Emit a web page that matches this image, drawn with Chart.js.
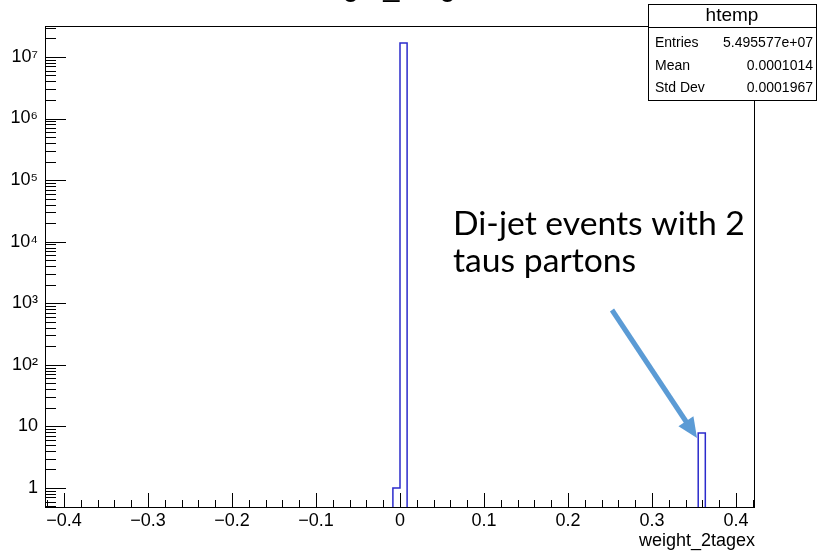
<!DOCTYPE html>
<html><head><meta charset="utf-8">
<script src="https://cdn.jsdelivr.net/npm/chart.js@4/dist/chart.umd.min.js"></script>
<style>html,body{margin:0;padding:0;background:#fff;overflow:hidden}#wrap{width:821px;height:552px;position:relative}</style>
</head><body><div id="wrap"><canvas id="c" width="821" height="552"></canvas></div>
<script>
// ---- data ----
const histTitle = 'weight_2tagex';
const xAxisTitle = 'weight_2tagex';
const xMin = -0.4226, xMax = 0.4226;
const yMin = 0.49, yMax = 3.18e7;
const binWidth = 0.008452;
const binLowEdges = [-0.008452, 0, 0.3550];
const binCounts = [1, 1.69e7, 7.8];
const xTickValues = [-0.4, -0.3, -0.2, -0.1, 0, 0.1, 0.2, 0.3, 0.4];
const xTickLabels = ['\u22120.4', '\u22120.3', '\u22120.2', '\u22120.1', '0', '0.1', '0.2', '0.3', '0.4'];
const yTickValues = [1, 10, 100, 1e3, 1e4, 1e5, 1e6, 1e7];
const yTickLabels = ['1', '10', '10\u00B2', '10\u00B3', '10\u2074', '10\u2075', '10\u2076', '10\u2077'];
const statsName = 'htemp';
const statsLabels = ['Entries', 'Mean', 'Std Dev'];
const statsValues = ['5.495577e+07', '0.0001014', '0.0001967'];
const noteLines = ['Di-jet events with 2', 'taus partons'];

// ---- build histogram outline from bins ----
const pts = [];
let prevHi = null;
binLowEdges.forEach((lo, i) => {
  const hi = lo + binWidth, c = binCounts[i];
  if (prevHi === null || Math.abs(lo - prevHi) > 1e-9) {
    if (prevHi !== null) { pts.push({x: prevHi, y: yMin}); pts.push({x: (prevHi + lo) / 2, y: null}); }
    pts.push({x: lo, y: yMin});
  }
  pts.push({x: lo, y: c}); pts.push({x: hi, y: c});
  prevHi = hi;
});
pts.push({x: prevHi, y: yMin});

const FONT = 'Liberation Sans';

const decor = {
  id: 'decor',
  afterDraw(chart) {
    const {ctx, chartArea: a, scales: {x, y}} = chart;
    ctx.save();
    ctx.strokeStyle = '#000'; ctx.lineWidth = 1;
    ctx.beginPath();
    for (let k = Math.floor(Math.log10(yMin)); k <= Math.ceil(Math.log10(yMax)); k++) {
      for (let m = 1; m <= 9; m++) {
        const v = m * Math.pow(10, k);
        if (v < yMin || v > yMax) continue;
        const py = Math.round(y.getPixelForValue(v)) + 0.5;
        const len = m === 1 ? 21 : 11;
        ctx.moveTo(a.left, py); ctx.lineTo(a.left + len, py);
      }
    }
    for (let i = -25; i <= 25; i++) {
      const v = i * 0.02;
      if (v < xMin || v > xMax) continue;
      const px = Math.round(x.getPixelForValue(v)) + 0.5;
      const len = i % 5 === 0 ? 14 : 7;
      ctx.moveTo(px, a.bottom); ctx.lineTo(px, a.bottom - len);
    }
    ctx.stroke();
    // frame
    ctx.strokeRect(a.left + 0.5, a.top + 0.5, a.right - a.left - 1, a.bottom - a.top);

    // cut-off title at the top
    ctx.fillStyle = '#000';
    ctx.font = '29px "' + FONT + '"';
    ctx.textAlign = 'center'; ctx.textBaseline = 'alphabetic';
    ctx.fillText(histTitle, 393, -4);

    // stats box
    const bx = 648, by = 4, bw = 168, bh = 96;
    ctx.fillStyle = '#fff';
    ctx.fillRect(bx, by, bw, bh);
    ctx.strokeRect(bx + 0.5, by + 0.5, bw, bh);
    ctx.beginPath(); ctx.moveTo(bx, 27.5); ctx.lineTo(bx + bw, 27.5); ctx.stroke();
    ctx.fillStyle = '#000';
    ctx.font = '19px "' + FONT + '"';
    ctx.textAlign = 'center'; ctx.textBaseline = 'middle';
    ctx.fillText(statsName, bx + bw / 2, 16);
    ctx.font = '14px "' + FONT + '"';
    const rowsY = [43, 66, 88];
    statsLabels.forEach((l, i) => {
      ctx.textAlign = 'left'; ctx.fillText(l, bx + 7, rowsY[i]);
      ctx.textAlign = 'right'; ctx.fillText(statsValues[i], bx + bw - 3, rowsY[i]);
    });

    // annotation text
    ctx.font = '28px Lato';
    const w28 = ctx.measureText(noteLines[0]).width;
    const fs = 28 * 292 / w28;
    ctx.font = fs.toFixed(1) + 'px Lato';
    ctx.textAlign = 'left'; ctx.textBaseline = 'alphabetic';
    ctx.fillText(noteLines[0], 453, 235);
    ctx.fillText(noteLines[1], 453, 272);

    // arrow
    const x0 = 612, y0 = 310, x1 = 697, y1 = 438;
    const dx = x1 - x0, dy = y1 - y0, L = Math.hypot(dx, dy);
    const ux = dx / L, uy = dy / L;
    const hl = 20, hw = 9;
    ctx.strokeStyle = '#5b9bd5'; ctx.fillStyle = '#5b9bd5'; ctx.lineWidth = 5;
    ctx.beginPath(); ctx.moveTo(x0, y0); ctx.lineTo(x1 - ux * (hl - 2), y1 - uy * (hl - 2)); ctx.stroke();
    const bxh = x1 - ux * hl, byh = y1 - uy * hl;
    ctx.beginPath();
    ctx.moveTo(x1, y1);
    ctx.lineTo(bxh - uy * hw, byh + ux * hw);
    ctx.lineTo(bxh + uy * hw, byh - ux * hw);
    ctx.closePath(); ctx.fill();
    ctx.restore();
  }
};

new Chart(document.getElementById('c'), {
  type: 'line',
  data: {
    datasets: [{
      data: pts,
      borderColor: '#2b2bcc',
      borderWidth: 1.5,
      pointRadius: 0,
      fill: false,
      spanGaps: false,
      tension: 0
    }]
  },
  options: {
    responsive: false,
    animation: false,
    devicePixelRatio: 1,
    layout: {padding: {top: 26, right: 66, left: 0, bottom: 0}},
    plugins: {legend: {display: false}, tooltip: {enabled: false}, title: {display: false}},
    scales: {
      x: {
        type: 'linear', min: xMin, max: xMax,
        afterBuildTicks: s => { s.ticks = xTickValues.map(v => ({value: v})); },
        afterFit: s => { s.height = 45; },
        grid: {display: false, drawTicks: false},
        border: {display: false},
        ticks: {padding: 3, color: '#000', font: {family: FONT, size: 18}, maxRotation: 0, autoSkip: false,
          callback: (v, i) => xTickLabels[i]},
        title: {display: true, text: xAxisTitle, align: 'end', color: '#000',
          font: {family: FONT, size: 18}, padding: {top: 0, bottom: 0}}
      },
      y: {
        type: 'logarithmic', min: yMin, max: yMax,
        afterBuildTicks: s => { s.ticks = yTickValues.map(v => ({value: v})); },
        afterFit: s => { s.width = 45; },
        grid: {display: false, drawTicks: false},
        border: {display: false},
        ticks: {padding: 7, color: '#000', font: {family: FONT, size: 18}, autoSkip: false,
          callback: (v, i) => yTickLabels[i]}
      }
    }
  },
  plugins: [decor]
});
</script></body></html>
